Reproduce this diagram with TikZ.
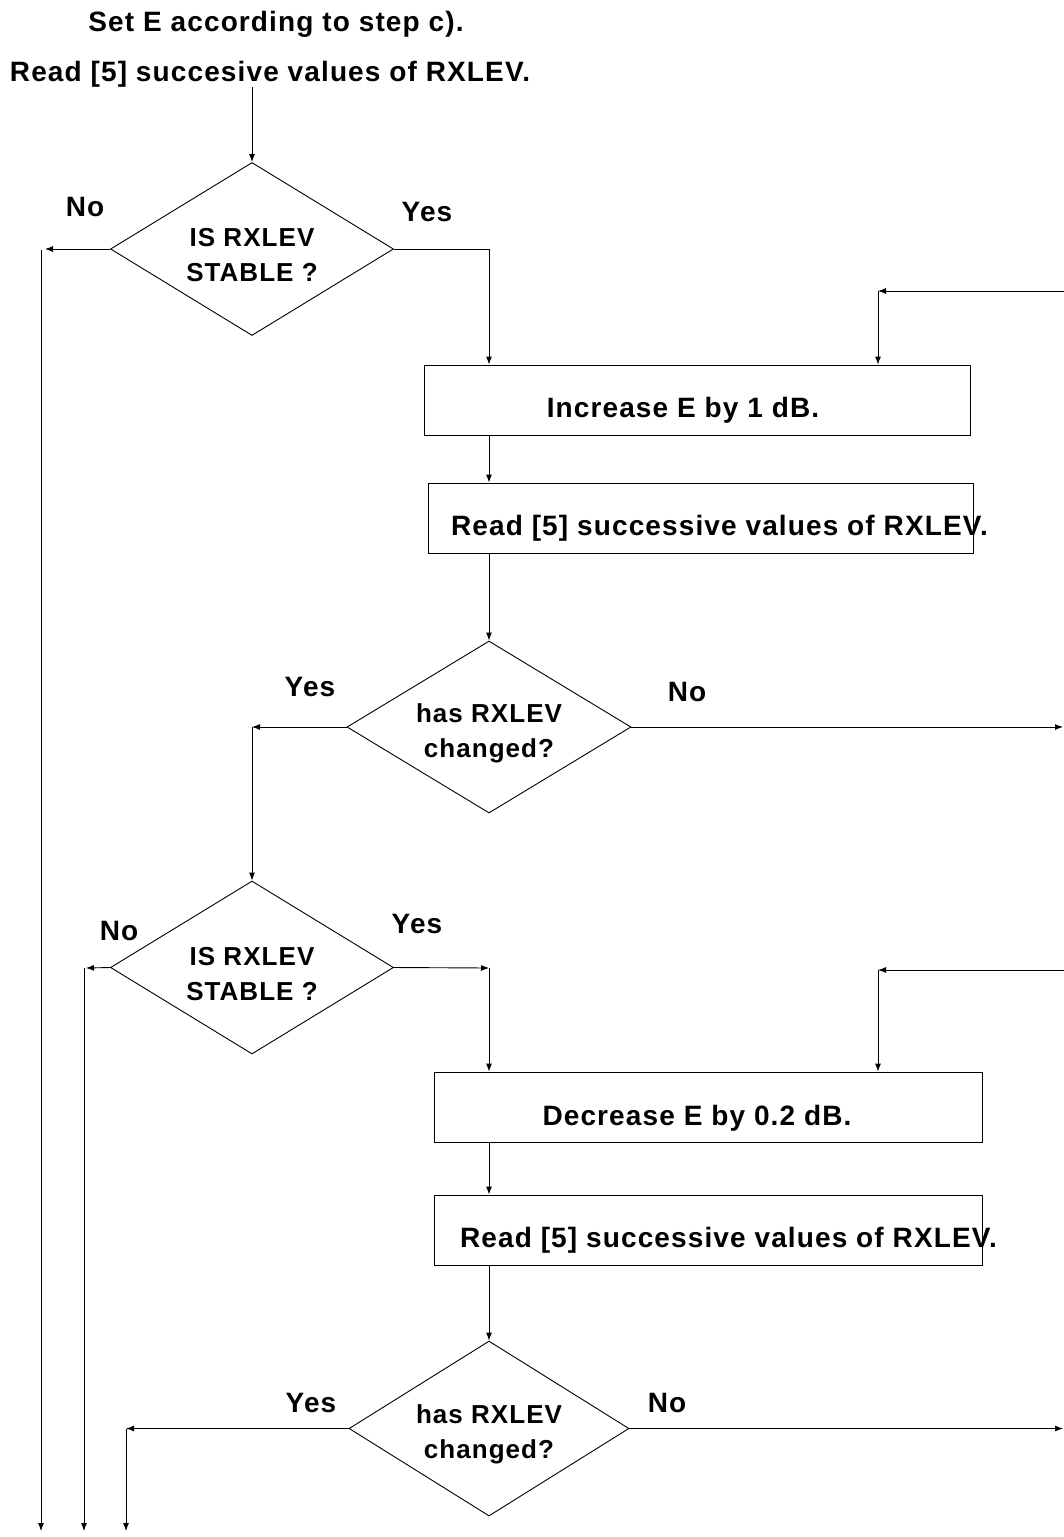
\documentclass[tikz,border=0pt]{standalone}
\usepackage{fontspec}
\setmainfont{Liberation Sans}[LetterSpace=4]
\usetikzlibrary{shapes.geometric,arrows.meta}
\begin{document}
\begin{tikzpicture}[x=1pt,y=-1pt,
  every node/.style={font=\bfseries\fontsize{28}{32}\selectfont, inner sep=0pt},
  ln/.style={line width=0.9pt},
  arr/.style={ln,-{Latex[length=8pt,width=6pt]}},
  dec/.style={diamond,draw,ln,aspect=1.64,minimum width=283pt,minimum height=173pt,
    align=center,text height=66pt,font=\bfseries\fontsize{26}{35}\selectfont},
  box/.style={rectangle,draw,ln,minimum width=546pt,minimum height=70pt},
  lbl/.style={anchor=base},
  txt/.style={anchor=base}]
\useasboundingbox (0,0) rectangle (1064,1537);

% nodes
\node[txt] (set) at (276,31) {Set E according to step c).};
\node[txt] (read0) at (270,81) {Read [5] succesive values of RXLEV.};
\node[dec] (d1) at (252,249) {IS RXLEV\\STABLE ?};
\node[lbl] (no1) at (85,216) {No};
\node[lbl] (yes1) at (427,221) {Yes};
\node[box] (b1) at (697,400) {};
\node[txt] (b1t) at (683,417) {Increase E by 1 dB.};
\node[box,minimum width=545pt] (b2) at (700.5,518) {};
\node[txt] (b2t) at (719.5,535) {Read [5] successive values of RXLEV.};
\node[dec,minimum width=284pt,minimum height=172pt] (d2) at (489,727) {has RXLEV\\changed?};
\node[lbl] (yes2) at (310,696) {Yes};
\node[lbl] (no2) at (687,701) {No};
\node[dec] (d3) at (252,967.5) {IS RXLEV\\STABLE ?};
\node[lbl] (no3) at (119,940) {No};
\node[lbl] (yes3) at (417,933) {Yes};
\node[box,minimum width=548pt] (b3) at (708,1107) {};
\node[txt] (b3t) at (697,1125) {Decrease E by 0.2 dB.};
\node[box,minimum width=548pt] (b4) at (708,1230) {};
\node[txt] (b4t) at (728.5,1247) {Read [5] successive values of RXLEV.};
\node[dec,minimum width=280pt,minimum height=175pt] (d4) at (489,1428.5) {has RXLEV\\changed?};
\node[lbl] (yes4) at (311,1412) {Yes};
\node[lbl] (no4) at (667,1412) {No};

% helper coordinates
\coordinate (n1) at (45,249);
\coordinate (v1a) at (41,250);
\coordinate (v1b) at (41,1531);
\coordinate (y1) at (489,249);
\coordinate (r1) at (1064,291);
\coordinate (k1) at (878,291);
\coordinate (y2) at (252,727);
\coordinate (e2) at (1063,727);
\coordinate (n3) at (86,968);
\coordinate (v3a) at (84,968);
\coordinate (v3b) at (84,1531);
\coordinate (y3) at (489,968);
\coordinate (r3) at (1064,970);
\coordinate (k3) at (878,970);
\coordinate (y4) at (126,1428.5);
\coordinate (v4b) at (126,1531);
\coordinate (e4) at (1063,1428.5);

% connectors
\draw[arr] (read0.south -| d1.north) -- (d1.north);
\draw[arr] (d1.west) -- (n1);
\draw[arr] (v1a) -- (v1b);
\draw[arr] (d1.east) -- (y1) -- (y1 |- b1.north);
\draw[arr] (r1) -- (k1);
\draw[arr] (k1) -- (k1 |- b1.north);
\draw[arr] (b1.south -| y1) -- (b2.north -| y1);
\draw[arr] (b2.south -| y1) -- (d2.north);
\draw[arr] (d2.west) -- (y2);
\draw[arr] (y2) -- (d3.north);
\draw[arr] (d2.east) -- (e2);
\draw[arr] (d3.west) -- (n3);
\draw[arr] (v3a) -- (v3b);
\draw[arr] (d3.east) -- (y3);
\draw[arr] (y3) -- (y3 |- b3.north);
\draw[arr] (r3) -- (k3);
\draw[arr] (k3) -- (k3 |- b3.north);
\draw[arr] (b3.south -| y3) -- (b4.north -| y3);
\draw[arr] (b4.south -| y3) -- (d4.north);
\draw[arr] (d4.west) -- (y4);
\draw[arr] (y4) -- (v4b);
\draw[arr] (d4.east) -- (e4);
\end{tikzpicture}
\end{document}
